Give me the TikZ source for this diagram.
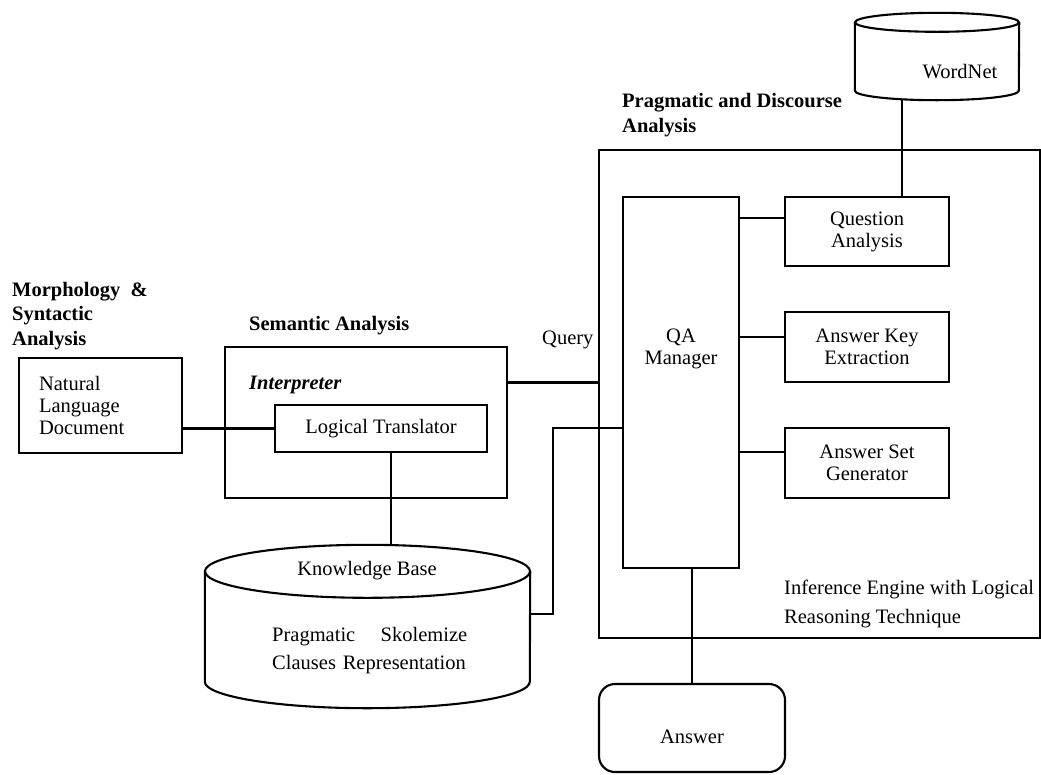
\documentclass[tikz,border=0pt]{standalone}
\usepackage{fontspec}
\setmainfont{Liberation Serif}

\tikzset{
    stroke/.style={line width=2.1pt},
    box/.style={draw, stroke, rectangle, inner sep=0pt, align=center,
        font=\fontsize{20.5}{22}\selectfont},
    drum/.style={inner sep=0pt},
    lbl/.style={anchor=west, inner sep=0pt, align=left,
        font=\fontsize{20.5}{24.5}\selectfont\bfseries},
    txt/.style={inner sep=0pt, align=left, font=\fontsize{20.5}{28.5}\selectfont}
}
% cylinder outline on a named node: #1 node, #2 x radius, #3 y radius
\newcommand{\drumline}[3]{
    \draw[stroke] ([yshift=-#3]#1.north) ellipse [x radius=#2, y radius=#3];
    \draw[stroke] ([yshift=-#3]#1.north west) -- ([yshift=#3]#1.south west)
        arc [start angle=180, end angle=360, x radius=#2, y radius=#3]
        -- ([yshift=-#3]#1.north east);
}

\begin{document}
\begin{tikzpicture}[x=1pt, y=-1pt]
    \useasboundingbox (0,0) rectangle (1041,774);

    % left part
    \node[lbl] (morph) at (12,316) {Morphology \ \&\\Syntactic\\Analysis};
    \node[box, align=left, minimum width=163, minimum height=95, text width=123]
        (nld) at (100.5,405.5) {Natural\\Language\\Document};
    \node[box, minimum width=282, minimum height=151] (sem) at (366,422.5) {};
    \node[lbl] (semlbl) at (249,326) {Semantic Analysis};
    \node[lbl, font=\fontsize{20.5}{24.5}\selectfont\bfseries\itshape]
        (interp) at (249,385) {Interpreter};
    \node[box, minimum width=212, minimum height=47] (lt) at (381,428.5) {Logical Translator};

    % knowledge base
    \node[drum, minimum width=325, minimum height=163] (kb) at (367.5,626.5) {};
    \drumline{kb}{162.5pt}{26.5pt}
    \node[txt] (kbtitle) at (367,571) {Knowledge Base};
    \node[txt, anchor=west, text width=195] (kbbody) at (272,650.5)
        {Pragmatic\hfill Skolemize\\Clauses Representation};

    \node[txt, anchor=west] (query) at (542,340) {Query};

    % inference engine
    \node[box, minimum width=441, minimum height=488] (infer) at (819.5,394) {};
    \node[lbl, font=\fontsize{20.5}{25}\selectfont\bfseries]
        (praglbl) at (622,115.5) {Pragmatic and Discourse\\Analysis};
    \node[txt, anchor=west] (inferlbl) at (784,604)
        {Inference Engine with Logical\\Reasoning Technique};
    \node[box, minimum width=116, minimum height=371] (qa) at (681,382.5) {};
    \node[txt, align=center, font=\fontsize{20.5}{22}\selectfont] (qalbl) at (681,349) {QA\\Manager};
    \node[box, minimum width=164, minimum height=69] (qan) at (867,231.5) {Question\\Analysis};
    \node[box, minimum width=164, minimum height=70] (ak) at (867,347) {Answer Key\\Extraction};
    \node[box, minimum width=164, minimum height=70] (asg) at (867,463) {Answer Set\\Generator};

    \node[drum, minimum width=164, minimum height=87] (wn) at (937,56.5) {};
    \drumline{wn}{82pt}{9.5pt}
    \node[txt] (wnlbl) at (960,72) {WordNet};

    \node[box, rounded corners=16pt, minimum width=186, minimum height=88, text height=32pt]
        (ans) at (692,728) {Answer};

    % connectors
    \coordinate (kbturn) at (553,428);
    \draw[stroke] (lt.west -| nld.east) -- (lt.west);
    \draw[stroke] ([xshift=10pt]lt.south) -- ([xshift=10pt]lt.south |- kb.north);
    \draw[stroke] (qa.west -| sem.east) -- (qa.west -| infer.west);
    \draw[stroke] ([yshift=12.5pt]kb.east) -| (kbturn) -- (kbturn -| qa.west);
    \foreach \b/\s in {qan/13.5, ak/10, asg/11}
        \draw[stroke] ([yshift=\s pt]\b.west) -- ([yshift=\s pt]\b.west -| qa.east);
    \draw[stroke] ([xshift=35pt]qan.north) -- ([xshift=35pt]qan.north |- wn.south);
    \draw[stroke] (ans.north) -- (ans.north |- qa.south);
\end{tikzpicture}
\end{document}
